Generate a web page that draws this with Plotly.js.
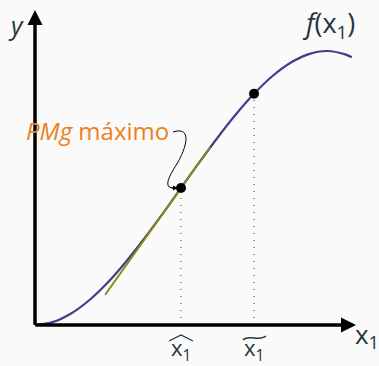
<!DOCTYPE html>
<html><head><meta charset="utf-8">
<script src="https://cdn.plot.ly/plotly-3.0.1.min.js"></script>
<style>html,body{margin:0;padding:0;background:#fafafa;}</style>
</head><body>
<div id="chart" style="width:379px;height:366px;"></div>
<script>
// Curve f(x1)
const curveX = [0, 0.25, 0.5, 0.75, 1.0, 1.25, 1.5, 1.75, 2.0, 2.25, 2.5, 2.75, 3.0, 3.25, 3.5, 3.75, 4.0, 4.25, 4.34];
const curveY = [0, 0.045, 0.172, 0.369, 0.625, 0.928, 1.266, 1.627, 2.0, 2.373, 2.734, 3.072, 3.375, 3.631, 3.828, 3.955, 4.0, 3.951, 3.908];
// Tangent (PMg máximo) segment
const tangentX = [0.96, 2.40];
const tangentY = [0.44, 2.60];
// Marked points: x-hat (inflection) and x-tilde
const pointX = [2, 3];
const pointY = [2, 3.375];
const tickLabels = ["x<sub>1</sub>", "x<sub>1</sub>"];

// pixel -> data helpers for decorations
const X = px => (px - 35) / 73;
const Y = py => (325 - py) / 68.5;

const dark = '#23373b';
const font = 'Open Sans, DejaVu Sans, sans-serif';

const traces = [
  {x: curveX, y: curveY, mode: 'lines', line: {color: '#463b8c', width: 2.2, shape: 'spline'}, hoverinfo: 'skip'},
  {x: [pointX[0], pointX[0]], y: [0, pointY[0]], mode: 'lines', line: {color: '#333', width: 1, dash: '1px,6px'}, hoverinfo: 'skip'},
  {x: [pointX[1], pointX[1]], y: [0, pointY[1]], mode: 'lines', line: {color: '#333', width: 1, dash: '1px,6px'}, hoverinfo: 'skip'},
  {x: tangentX, y: tangentY, mode: 'lines', line: {color: '#8a8a10', width: 1.8}, hoverinfo: 'skip'},
  {x: pointX, y: pointY, mode: 'markers', marker: {color: '#000', size: 10}, hoverinfo: 'skip'}
];

const ann = [];
// axes arrows
ann.push({x: 0, y: Y(10), ax: 0, ay: 0, xref: 'x', yref: 'y', axref: 'x', ayref: 'y', text: '', showarrow: true, arrowhead: 2, arrowsize: 1, arrowwidth: 3, arrowcolor: '#000', standoff: 0});
ann.push({x: X(356), y: 0, ax: 0, ay: 0, xref: 'x', yref: 'y', axref: 'x', ayref: 'y', text: '', showarrow: true, arrowhead: 2, arrowsize: 1, arrowwidth: 3, arrowcolor: '#000', standoff: 0});
// labels
ann.push({x: X(16), y: Y(25), xref: 'x', yref: 'y', text: '<i>y</i>', showarrow: false, font: {family: font, size: 25, color: dark}});
ann.push({x: X(367), y: Y(335), xref: 'x', yref: 'y', text: 'x<sub>1</sub>', showarrow: false, font: {family: font, size: 26, color: dark}});
ann.push({x: X(328), y: Y(24), xref: 'x', yref: 'y', text: '<i>f</i>(x<sub>1</sub>)', showarrow: false, font: {family: font, size: 27, color: dark}});
ann.push({x: pointX[0], y: Y(349), xref: 'x', yref: 'y', text: tickLabels[0], showarrow: false, font: {family: font, size: 22, color: dark}});
ann.push({x: pointX[1], y: Y(349), xref: 'x', yref: 'y', text: tickLabels[1], showarrow: false, font: {family: font, size: 22, color: dark}});
ann.push({x: X(24), y: Y(130), xref: 'x', yref: 'y', xanchor: 'left', text: '<i>PMg</i> máximo', showarrow: false, font: {family: font, size: 24, color: '#eb811b'}});
// small arrowhead of curved pointer
ann.push({x: X(178), y: Y(188), ax: X(170), ay: Y(188), xref: 'x', yref: 'y', axref: 'x', ayref: 'y', text: '', showarrow: true, arrowhead: 2, arrowsize: 1, arrowwidth: 1, arrowcolor: '#000', standoff: 0});

const shapes = [
  {type: 'line', xref: 'x', yref: 'y', x0: 0, y0: 0, x1: 0, y1: Y(14), line: {color: '#000', width: 3}},
  {type: 'line', xref: 'x', yref: 'y', x0: 0, y0: 0, x1: X(350), y1: 0, line: {color: '#000', width: 3}},
  // curved pointer
  {type: 'path', xref: 'x', yref: 'y', line: {color: '#000', width: 1},
   path: `M ${X(173)},${Y(132)} C ${X(192)},${Y(126)} ${X(187)},${Y(146)} ${X(178)},${Y(162)} C ${X(168)},${Y(178)} ${X(162)},${Y(189)} ${X(176)},${Y(188)}`},
  // hat over first tick label
  {type: 'path', xref: 'x', yref: 'y', line: {color: dark, width: 1.3},
   path: `M ${X(169)},${Y(341)} L ${X(181)},${Y(335)} L ${X(193)},${Y(341)}`},
  // tilde over second tick label
  {type: 'path', xref: 'x', yref: 'y', line: {color: dark, width: 1.3},
   path: `M ${X(243)},${Y(340)} C ${X(249)},${Y(334)} ${X(259)},${Y(342)} ${X(266)},${Y(336)}`}
];

const layout = {
  width: 379, height: 366,
  margin: {l: 0, r: 0, t: 0, b: 0},
  paper_bgcolor: '#fafafa', plot_bgcolor: '#fafafa',
  showlegend: false,
  xaxis: {range: [X(0), X(379)], visible: false, fixedrange: true},
  yaxis: {range: [Y(366), Y(0)], visible: false, fixedrange: true},
  annotations: ann,
  shapes: shapes
};
Plotly.newPlot('chart', traces, layout, {staticPlot: true});
</script>
</body></html>
